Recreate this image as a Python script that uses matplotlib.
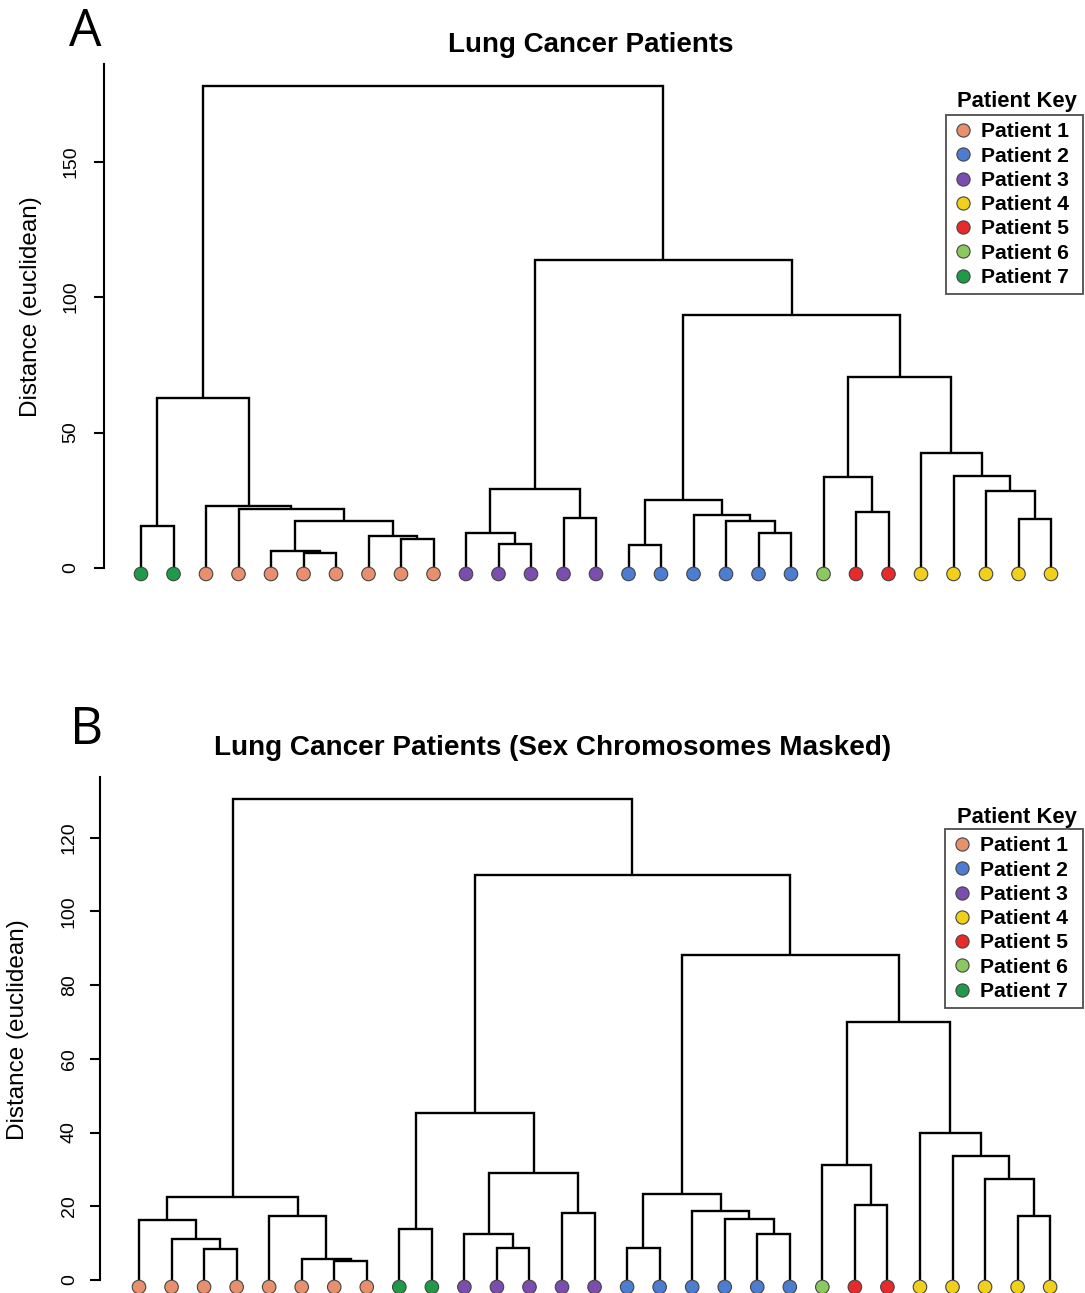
import numpy as np
import matplotlib
matplotlib.use("Agg")
import matplotlib.pyplot as plt
from matplotlib.lines import Line2D

plt.rcParams['font.family'] = ['Liberation Sans', 'DejaVu Sans']

# patient colours (legend order)
patients = ['Patient 1', 'Patient 2', 'Patient 3', 'Patient 4',
            'Patient 5', 'Patient 6', 'Patient 7']
colors = ['#E8906E', '#4C7DD0', '#7A4DAE', '#F0D01A',
          '#E82A2A', '#8CC860', '#1F9A48']

# ---- panel A : leaf patients in plotted order, merges (R style) and heights
leaves_a = [7, 7, 1, 1, 1, 1, 1, 1, 1, 1, 3, 3, 3, 3, 3,
            2, 2, 2, 2, 2, 2, 6, 5, 5, 4, 4, 4, 4, 4]
merges_a = [(-6, -7), (-5, 1), (-9, -10), (-8, 3), (2, 4), (-4, 5), (-3, 6),
            (-1, -2), (8, 7),
            (-12, -13), (-11, 10), (-14, -15), (11, 12),
            (-16, -17), (-20, -21), (-19, 15), (-18, 16), (14, 17),
            (-23, -24), (-22, 19),
            (-28, -29), (-27, 21), (-26, 22), (-25, 23),
            (20, 24), (18, 25), (13, 26), (9, 27)]
heights_a = [5.4, 6.3, 10.7, 11.7, 17.3, 21.9, 23.0,
             15.5, 62.7,
             8.9, 13.0, 18.6, 29.3,
             8.4, 12.9, 17.5, 19.6, 25.2,
             20.8, 33.7,
             18.0, 28.5, 33.9, 42.3,
             70.6, 93.4, 113.7, 177.9]

# ---- panel B
leaves_b = [1, 1, 1, 1, 1, 1, 1, 1, 7, 7, 3, 3, 3, 3, 3,
            2, 2, 2, 2, 2, 2, 6, 5, 5, 4, 4, 4, 4, 4]
merges_b = [(-3, -4), (-2, 1), (-1, 2), (-7, -8), (-6, 4), (-5, 5), (3, 6),
            (-9, -10), (-12, -13), (-11, 9), (-14, -15), (10, 11), (8, 12),
            (-16, -17), (-20, -21), (-19, 15), (-18, 16), (14, 17),
            (-23, -24), (-22, 19),
            (-28, -29), (-27, 21), (-26, 22), (-25, 23),
            (20, 24), (18, 25), (13, 26), (7, 27)]
heights_b = [8.5, 11.0, 16.4, 5.2, 5.7, 17.3, 22.4,
             13.9, 8.8, 12.6, 18.2, 29.1, 45.2,
             8.8, 12.4, 16.5, 18.8, 23.3,
             20.3, 31.2,
             17.4, 27.4, 33.6, 39.8,
             69.9, 88.2, 109.9, 130.5]

W, H = 1085, 1293
fig = plt.figure(figsize=(W / 100, H / 100), dpi=100)


def px_axes(left, top, right, bottom):
    return fig.add_axes([left / W, 1 - bottom / H, (right - left) / W, (bottom - top) / H])


def draw_tree(ax, leaves, merges, heights, leaf_y):
    n = len(leaves)
    xs = np.arange(1, n + 1)
    pos, hgt = [], []

    def get(k):
        if k < 0:
            return xs[-k - 1], 0.0
        return pos[k - 1], hgt[k - 1]

    for (a, b), h in zip(merges, heights):
        xa, ha = get(a)
        xb, hb = get(b)
        ax.plot([xa, xa, xb, xb], [ha, h, h, hb], color='black', lw=1.7,
                solid_joinstyle='miter', solid_capstyle='butt')
        pos.append((xa + xb) / 2)
        hgt.append(h)
    ax.scatter(xs, np.full(n, leaf_y), s=95, c=[colors[p - 1] for p in leaves],
               edgecolors='#444444', linewidths=0.8, zorder=5, clip_on=False)


def style_axis(ax, ticks, top, pad):
    for s in ['top', 'right', 'bottom']:
        ax.spines[s].set_visible(False)
    ax.spines['left'].set_bounds(0, top)
    ax.spines['left'].set_linewidth(1.5)
    ax.set_xticks([])
    ax.set_yticks(ticks)
    ax.tick_params(axis='y', length=7, width=1.5, pad=pad, labelsize=14)
    for lab in ax.get_yticklabels():
        lab.set_rotation(90)
        lab.set_va('center')


def add_legend(ax, x_left, x_right, y_top, title_y):
    handles = [Line2D([], [], ls='none', marker='o', ms=9.5, mfc=c,
                      mec='#444444', mew=0.8) for c in colors]
    leg = ax.legend(handles, patients, loc='upper left', mode='expand',
                    bbox_to_anchor=(x_left / W, 1 - (y_top + 10) / H,
                                    (x_right - x_left) / W, 10 / H),
                    bbox_transform=fig.transFigure, frameon=True, fancybox=False,
                    edgecolor='#222222', prop={'weight': 'bold', 'size': 15.2},
                    handlelength=0.9, handletextpad=0.4, labelspacing=0.25,
                    borderpad=0.35, borderaxespad=0)
    leg.get_frame().set_linewidth(1.3)
    fig.text((x_right - 66) / W, 1 - title_y / H, 'Patient Key', ha='center',
             va='center', fontsize=15.8, fontweight='bold')


# ---------------- panel A
axA = px_axes(104, 64, 1080, 600)
draw_tree(axA, leaves_a, merges_a, heights_a, -2.2)
axA.set_xlim(1 + (104 - 141) / 32.5, 1 + (1080 - 141) / 32.5)
axA.set_ylim((568 - 600) / 2.71, (568 - 64) / 2.71)
style_axis(axA, [0, 50, 100, 150], (568 - 64) / 2.71, 11)
fig.text(31 / W, 1 - 307 / H, 'Distance (euclidean)', rotation=90,
         ha='center', va='center', fontsize=17.5)
fig.text(591 / W, 1 - 45 / H, 'Lung Cancer Patients', ha='center', va='center',
         fontsize=20, fontweight='bold')
fig.text(85 / W, 1 - 33 / H, 'A', ha='center', va='center', fontsize=37,
         family=['Open Sans', 'DejaVu Sans'])
add_legend(axA, 946, 1083, 115, 102)

# ---------------- panel B
axB = px_axes(100, 777, 1080, 1293)
draw_tree(axB, leaves_b, merges_b, heights_b, -1.9)
axB.set_xlim(1 + (100 - 139) / 32.54, 1 + (1080 - 139) / 32.54)
axB.set_ylim((1280 - 1293) / 3.686, (1280 - 777) / 3.686)
style_axis(axB, [0, 20, 40, 60, 80, 100, 120], (1280 - 777) / 3.686, 9)
fig.text(18 / W, 1 - 1030 / H, 'Distance (euclidean)', rotation=90,
         ha='center', va='center', fontsize=17.5)
fig.text(553 / W, 1 - 748 / H, 'Lung Cancer Patients (Sex Chromosomes Masked)',
         ha='center', va='center', fontsize=20.1, fontweight='bold')
fig.text(87 / W, 1 - 730 / H, 'B', ha='center', va='center', fontsize=37,
         family=['Open Sans', 'DejaVu Sans'])
add_legend(axB, 945, 1083, 829, 817)

fig.savefig('out.png', dpi=100)
